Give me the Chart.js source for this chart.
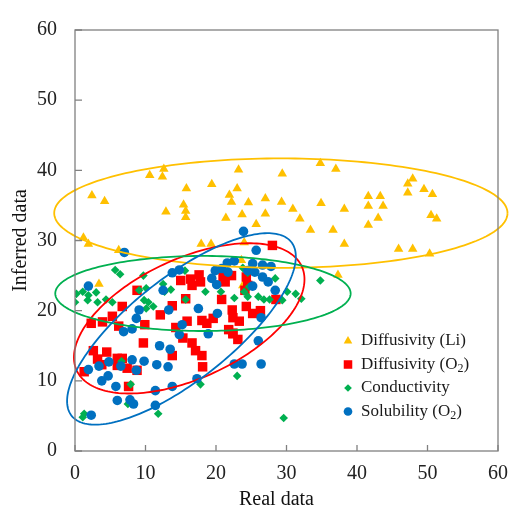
<!DOCTYPE html>
<html>
<head>
<meta charset="utf-8">
<script src="https://cdn.jsdelivr.net/npm/chart.js@4.4.0/dist/chart.umd.min.js"></script>
<style>
  html, body { margin: 0; padding: 0; background: #fff; }
</style>
</head>
<body>
<canvas id="chart" width="519" height="508"></canvas>
<script>
// Diffusivity (Li)
const liX = [10.6, 12.6, 12.4, 23.2, 29.4, 2.4, 4.2, 15.8, 19.4, 21.9, 23.0, 22.2, 24.6, 27.0, 29.3,
  34.8, 37.0, 30.9, 31.9, 33.4, 34.9, 36.6, 38.2, 38.2, 41.6, 43.3, 41.6, 43.7, 43.0, 41.6,
  47.9, 47.2, 47.2, 49.5, 50.7, 50.5, 51.3, 45.9, 47.9, 50.3, 37.3, 12.9, 15.4, 15.7, 15.7,
  21.4, 23.7, 25.7, 27.0, 1.2, 1.9, 6.2, 17.9, 19.3, 24.0, 23.6, 23.8, 3.4];
const liY = [39.3, 40.2, 39.1, 40.1, 39.5, 36.4, 35.6, 37.4, 38.0, 36.5, 37.4, 35.5, 35.4, 36.0, 35.5,
  41.0, 40.2, 34.5, 33.1, 31.5, 35.3, 31.5, 34.5, 29.5, 36.3, 36.3, 34.9, 34.9, 33.2, 32.2,
  38.8, 38.1, 36.8, 37.3, 36.6, 33.6, 33.1, 28.8, 28.8, 28.1, 25.1, 34.1, 35.1, 34.2, 33.3,
  33.2, 33.7, 32.3, 33.8, 30.4, 29.5, 28.6, 29.5, 29.5, 29.7, 27.2, 23.6, 23.8];

// Diffusivity (O2)
const o2dX = [15.0, 15.7, 8.8, 6.7, 5.3, 2.3, 3.9, 6.2, 9.9, 12.1, 13.8, 14.3,
  28.0, 16.4, 17.6, 17.8, 16.6, 21.0, 22.2, 21.3, 24.3, 24.5, 24.1, 20.8, 22.3, 24.3, 25.2, 26.3,
  22.4, 23.3, 19.6, 18.7, 18.0, 15.9, 21.8, 22.4, 28.5,
  2.6, 4.5, 3.2, 3.8, 1.3, 6.0, 6.7, 7.4, 6.0, 8.8, 9.7, 7.6, 13.8, 15.3, 16.6, 17.1, 18.0, 18.1,
  22.4, 23.1];
const o2dY = [24.3, 21.7, 22.9, 20.6, 19.2, 18.2, 18.4, 17.8, 18.0, 19.4, 20.7, 17.6,
  29.3, 24.5, 25.1, 24.1, 23.6, 24.8, 25.0, 24.1, 24.8, 23.6, 22.9, 21.6, 20.1, 20.6, 19.6, 20.0,
  19.0, 18.5, 18.9, 18.2, 18.6, 18.5, 17.3, 16.7, 21.6,
  14.3, 14.1, 13.1, 12.3, 11.3, 13.2, 13.2, 11.8, 12.2, 11.5, 15.4, 9.2, 13.6, 16.1, 15.4, 14.3, 13.6, 12.0,
  16.8, 15.9];

// Conductivity
const condX = [5.7, 6.4, 9.7, 0.2, 1.1, 0.0, 1.9, 3.0, 1.8, 3.2, 4.4, 5.3, 9.1, 10.1, 9.8, 10.4, 10.1, 11.1,
  12.5, 12.7, 13.6, 15.6, 18.5, 20.7, 15.7, 22.6, 24.0, 24.5, 26.0, 26.8, 27.6, 28.4, 30.1, 31.3,
  32.1, 24.5, 29.4, 34.8, 24.7, 23.8,
  6.6, 7.9, 7.5, 1.3, 1.1, 11.8, 17.8, 23.0, 29.6];
const condY = [25.8, 25.2, 25.0, 22.4, 22.7, 21.2, 22.2, 22.6, 21.5, 21.2, 21.6, 21.2, 22.9, 23.2, 21.5, 21.2, 20.3, 20.6,
  23.8, 22.7, 23.0, 25.7, 22.7, 22.7, 21.6, 21.8, 22.7, 22.0, 22.0, 21.6, 21.6, 24.6, 22.7, 22.4,
  21.7, 25.4, 21.5, 24.3, 23.4, 26.1,
  12.8, 9.5, 6.7, 5.3, 4.8, 5.3, 9.5, 10.7, 4.7];

// Solubility (O2)
const solX = [7.0, 1.9, 13.8, 14.8, 12.5, 9.1, 8.7, 13.3, 6.9, 8.1, 15.2, 14.8,
  23.9, 25.7, 21.6, 22.6, 19.9, 19.4, 20.1, 25.2, 26.6, 27.8, 24.5, 25.5, 26.6, 27.4, 25.2, 28.4,
  17.5, 20.2, 26.4, 18.9, 20.8, 21.7,
  12.0, 13.5, 26.0, 1.9, 3.4, 4.8, 6.5, 8.1, 8.7, 9.8, 11.6, 13.2, 3.8, 4.7, 5.8, 6.0, 7.8, 8.3,
  11.4, 13.8, 17.3, 11.4, 2.3, 22.6, 23.7, 26.4];
const solY = [28.3, 23.5, 25.4, 25.8, 22.9, 20.1, 18.9, 20.1, 17.0, 17.4, 18.0, 16.6,
  31.3, 28.6, 26.8, 27.1, 25.7, 24.6, 23.7, 26.7, 26.5, 26.3, 25.7, 25.5, 24.8, 24.1, 23.5, 22.9,
  20.3, 19.6, 19.0, 16.7, 26.0, 25.5,
  15.0, 14.5, 15.7, 11.6, 12.1, 12.7, 12.1, 13.0, 11.5, 12.8, 12.3, 12.0, 10.0, 10.7, 9.2, 7.2, 7.3, 6.7,
  8.6, 9.2, 10.3, 6.5, 5.1, 12.4, 12.4, 12.4];

// ellipses in data units (same order as the series): centre, semi-axes, tilt (deg)
const ellCx = [29.2, 16.2, 18.15, 15.1];
const ellCy = [33.9, 18.9, 22.45, 17.4];
const ellA = [32.15, 17.6, 20.95, 19.9];
const ellB = [7.8, 8.5, 5.35, 7.3];
const ellTilt = [0, 25, 0, 38.5];

const xTicks = [0, 10, 20, 30, 40, 50, 60];
const yTicks = [0, 10, 20, 30, 40, 50, 60];

const colors = ['#FFC000', '#FF0000', '#00B050', '#0070C0'];
const labels = ['Diffusivity (Li)', 'Diffusivity (O2)', 'Conductivity', 'Solubility (O2)'];
const styles = ['triangle', 'rect', 'rectRot', 'circle'];
const radii = [5.5, 6.7, 4.3, 4.8];

function pts(xs, ys) {
  return xs.map((x, i) => ({ x: x, y: ys[i] }));
}

const serif = '"Liberation Serif", "Times New Roman", serif';

// ellipses drawn on top of the points
const ellipsePlugin = {
  id: 'ellipses',
  afterDatasetsDraw(chart) {
    const ctx = chart.ctx;
    const sx = chart.scales.x, sy = chart.scales.y;
    ctx.save();
    ctx.lineWidth = 1.8;
    for (let k = 0; k < ellCx.length; k++) {
      const th = ellTilt[k] * Math.PI / 180;
      ctx.beginPath();
      for (let i = 0; i <= 200; i++) {
        const t = i / 200 * Math.PI * 2;
        const dx = ellA[k] * Math.cos(t) * Math.cos(th) - ellB[k] * Math.sin(t) * Math.sin(th);
        const dy = ellA[k] * Math.cos(t) * Math.sin(th) + ellB[k] * Math.sin(t) * Math.cos(th);
        const px = sx.getPixelForValue(ellCx[k] + dx);
        const py = sy.getPixelForValue(ellCy[k] + dy);
        if (i === 0) ctx.moveTo(px, py); else ctx.lineTo(px, py);
      }
      ctx.strokeStyle = colors[k];
      ctx.stroke();
    }
    ctx.restore();
  }
};

// frame, inward ticks and the legend
const framePlugin = {
  id: 'frame',
  afterDraw(chart) {
    const ctx = chart.ctx;
    const a = chart.chartArea;
    const sx = chart.scales.x, sy = chart.scales.y;
    ctx.save();
    ctx.strokeStyle = '#808080';
    ctx.lineWidth = 1.3;
    ctx.strokeRect(a.left, a.top, a.right - a.left, a.bottom - a.top);
    ctx.beginPath();
    xTicks.forEach(v => {
      const px = sx.getPixelForValue(v);
      ctx.moveTo(px, a.bottom);
      ctx.lineTo(px, a.bottom - 6);
    });
    yTicks.forEach(v => {
      const py = sy.getPixelForValue(v);
      ctx.moveTo(a.left, py);
      ctx.lineTo(a.left + 7, py);
    });
    ctx.stroke();

    // legend
    const lx = 348, tx = 361;
    const rows = [341, 364.5, 388, 411.5];
    ctx.textBaseline = 'middle';
    ctx.textAlign = 'left';
    for (let k = 0; k < 4; k++) {
      ctx.fillStyle = colors[k];
      ctx.strokeStyle = colors[k];
      Chart.helpers.drawPoint(ctx, { pointStyle: styles[k], radius: radii[k] * 0.9, rotation: 0, borderWidth: 0 }, lx, rows[k]);
      ctx.fillStyle = '#1a1a1a';
      ctx.font = '17px ' + serif;
      const txt = labels[k];
      if (txt.endsWith('(O2)')) {
        const head = txt.slice(0, -2);
        ctx.fillText(head, tx, rows[k]);
        let w = ctx.measureText(head).width;
        ctx.font = '12px ' + serif;
        ctx.fillText('2', tx + w, rows[k] + 4);
        w += ctx.measureText('2').width;
        ctx.font = '17px ' + serif;
        ctx.fillText(')', tx + w, rows[k]);
      } else {
        ctx.fillText(txt, tx, rows[k]);
      }
    }
    ctx.restore();
  }
};

const order = [3, 2, 1, 0];

new Chart(document.getElementById('chart'), {
  type: 'scatter',
  data: {
    datasets: [
      pts(liX, liY), pts(o2dX, o2dY), pts(condX, condY), pts(solX, solY)
    ].map((d, k) => ({
      label: labels[k],
      data: d,
      order: order[k],
      pointStyle: styles[k],
      pointRadius: radii[k],
      pointHoverRadius: radii[k],
      backgroundColor: colors[k],
      borderColor: colors[k],
      borderWidth: 0
    }))
  },
  options: {
    responsive: false,
    animation: false,
    devicePixelRatio: 1,
    layout: { padding: { top: 20, right: 12, left: 0, bottom: 0 } },
    plugins: { legend: { display: false }, tooltip: { enabled: false } },
    scales: {
      x: {
        type: 'linear', min: 0, max: 60,
        afterFit(scale) { scale.height = 57; },
        afterBuildTicks(scale) { scale.ticks = xTicks.map(v => ({ value: v })); },
        ticks: { color: '#222', font: { family: serif, size: 20 }, padding: 11 },
        grid: { display: false, drawTicks: false },
        border: { display: false },
        title: {
          display: true, text: 'Real data    ', color: '#111',
          font: { family: serif, size: 20, lineHeight: 1 }, padding: { top: 0, bottom: -2 }
        }
      },
      y: {
        type: 'linear', min: 0, max: 60,
        afterFit(scale) { scale.width = 75; },
        afterBuildTicks(scale) { scale.ticks = yTicks.map(v => ({ value: v })); },
        ticks: { color: '#222', font: { family: serif, size: 20 }, padding: 18 },
        grid: { display: false, drawTicks: false },
        border: { display: false },
        title: {
          display: true, text: 'Inferred data', color: '#111',
          font: { family: serif, size: 20, lineHeight: 1 }, padding: { top: 11, bottom: 0 }
        }
      }
    }
  },
  plugins: [ellipsePlugin, framePlugin]
});
</script>
</body>
</html>
